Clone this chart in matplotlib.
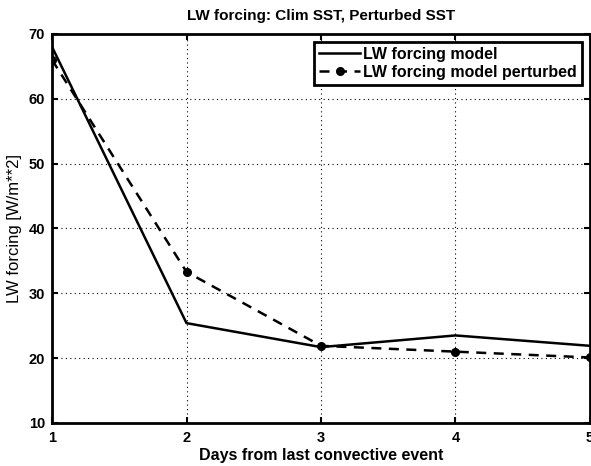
import numpy as np
import matplotlib.pyplot as plt

plt.rcParams['font.family'] = ['Liberation Sans', 'DejaVu Sans']

days = [1, 2, 3, 4, 5]
lw_model = [68.0, 25.4, 21.7, 23.5, 21.9]
lw_perturbed = [66.0, 33.3, 21.9, 21.0, 20.1]

fig = plt.figure(figsize=(5.91, 4.66), dpi=100)
ax = fig.add_axes([0.088, 0.0923, 0.9103, 0.835])

ax.plot(days, lw_model, '-', color='black', lw=1.8, label='LW forcing model')
ax.plot(days, lw_perturbed, '--', color='black', lw=1.8, marker='o', ms=5.5,
        dashes=(4, 3), label='LW forcing model perturbed')

ax.set_xlim(1, 5)
ax.set_ylim(10, 70)
ax.set_xticks(days)
ax.set_yticks(np.arange(10, 71, 10))
ax.grid(True, linestyle=(0, (1, 3)), color='black', lw=0.8)
ax.tick_params(direction='in', length=4, width=1.5, labelsize=10.5, top=True, right=True)
ax.tick_params(axis='x', pad=6)
ax.tick_params(axis='y', pad=5)
for lbl in ax.get_xticklabels() + ax.get_yticklabels():
    lbl.set_fontweight('bold')
for s in ax.spines.values():
    s.set_linewidth(2)

ax.set_title('LW forcing: Clim SST, Perturbed SST', fontsize=11, fontweight='bold', pad=10)
ax.set_xlabel('Days from last convective event', fontsize=11.5, fontweight='bold', labelpad=2)
ax.set_ylabel('LW forcing [W/m**2]', fontsize=12, labelpad=5)

leg = ax.legend(loc='upper right', prop={'size': 11.5, 'weight': 'bold'}, fancybox=False,
                framealpha=1, borderaxespad=0.5, handlelength=2.6, handletextpad=0.2,
                borderpad=0.3, labelspacing=0.2)
leg.get_frame().set_edgecolor('black')
leg.get_frame().set_linewidth(2)

fig.savefig('out.png', dpi=100)
